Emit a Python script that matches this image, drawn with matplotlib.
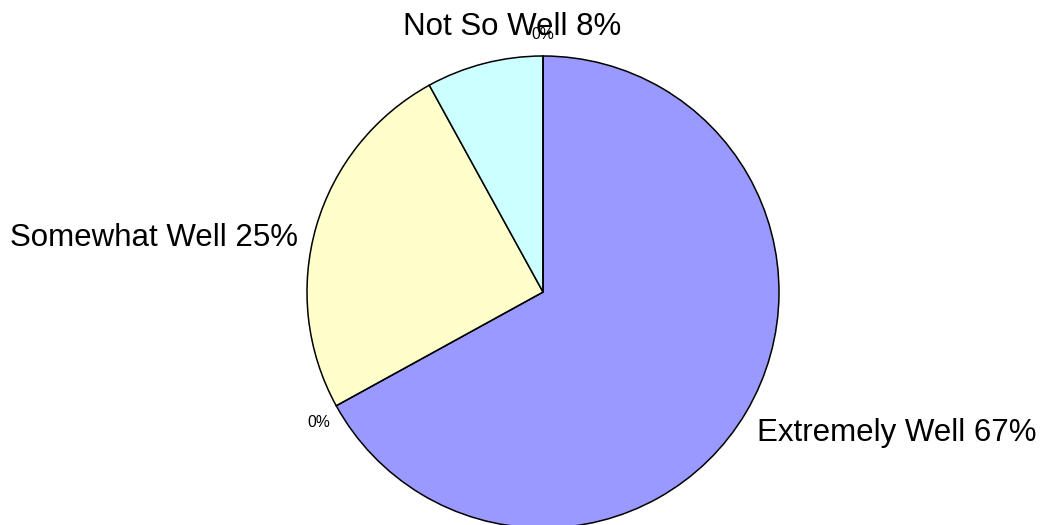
import matplotlib
matplotlib.use("Agg")
import matplotlib.pyplot as plt

plt.rcParams['font.family'] = ['Liberation Sans', 'DejaVu Sans']

# dane
categories = ['Extremely Well', '', 'Somewhat Well', 'Not So Well', '']
values = [67, 0, 25, 8, 0]
colors = ['#9999FF', '#FFFFCC', '#FFFFCC', '#CCFFFF', '#CCFFFF']

# pozycje etykiet (wspolrzedne danych, promien = 1)
label_pos = [(0.907, -0.631, 'left', 22.5),
             (-0.951, -0.572, 'center', 11.3),
             (-1.038, 0.195, 'right', 22.5),
             (-0.593, 1.089, 'left', 22.5),
             (0.0, 1.072, 'center', 11.3)]

W, H = 1048, 525
cx, cy, r = 543, 292, 236

fig = plt.figure(figsize=(W / 100, H / 100), dpi=100)
ax = fig.add_axes([(cx - r) / W, (H - cy - r) / H, 2 * r / W, 2 * r / H])

ax.pie(values, colors=colors, startangle=90, counterclock=False,
       wedgeprops=dict(edgecolor='black', linewidth=1.1), radius=1)
ax.set_xlim(-1, 1)
ax.set_ylim(-1, 1)
ax.set_aspect('equal')
ax.axis('off')

total = sum(values)
for name, v, (x, y, ha, fs) in zip(categories, values, label_pos):
    pct = f'{round(100 * v / total)}%'
    txt = f'{name} {pct}' if name else pct
    ax.text(x, y, txt, ha=ha, va='baseline', fontsize=fs, color='black',
            clip_on=False)

fig.savefig('out.png', dpi=100)
